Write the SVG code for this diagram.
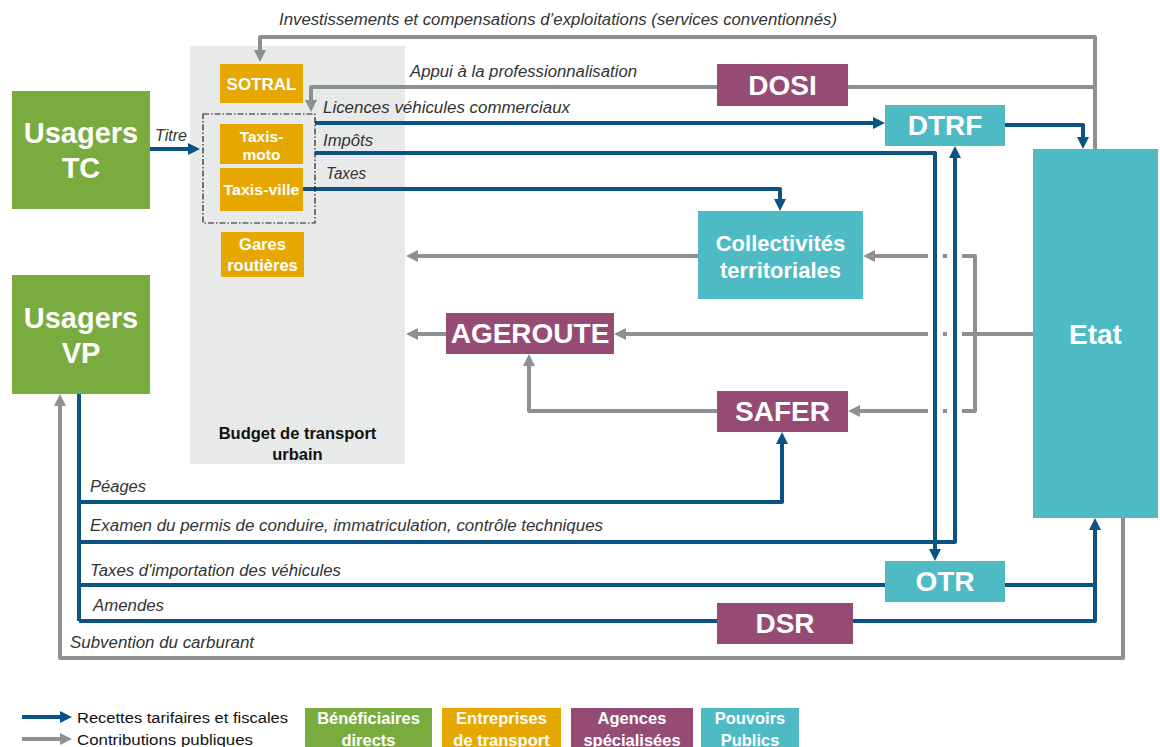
<svg xmlns="http://www.w3.org/2000/svg" width="1160" height="747" viewBox="0 0 1160 747">
<defs>
<marker id="ab" viewBox="0 0 10 10" refX="5" refY="5" markerWidth="12" markerHeight="12" markerUnits="userSpaceOnUse" orient="auto"><path d="M0,0 L10,5 L0,10 z" fill="#0b5384"/></marker>
<marker id="ag" viewBox="0 0 10 10" refX="5" refY="5" markerWidth="12" markerHeight="12" markerUnits="userSpaceOnUse" orient="auto"><path d="M0,0 L10,5 L0,10 z" fill="#8b9193"/></marker>
</defs>
<style>
.blue{fill:none;stroke:#0b5384;stroke-width:4;stroke-linejoin:round}
.gray{fill:none;stroke:#8b9193;stroke-width:4;stroke-linejoin:round}
.ab{marker-end:url(#ab)}
.ag{marker-end:url(#ag)}
.green{fill:#7aab3f}
.orange{fill:#e6a700}
.purple{fill:#954b73}
.teal{fill:#4dbac4}
.lbl{font-family:"Liberation Sans",Arial,sans-serif;font-weight:bold;fill:#fff;text-anchor:middle}
.it{font-family:"Liberation Sans",Arial,sans-serif;font-style:italic;font-size:16px;fill:#333}
.leg{font-family:"Liberation Sans",Arial,sans-serif;font-size:15.5px;fill:#111}
</style>
<rect width="1160" height="747" fill="#fff"/>

<g id="budget">
<rect x="190" y="46" width="215" height="418" fill="#e8e9e9"/>
<text class="lbl" x="297.5" y="439" style="fill:#111;font-size:16.5px">Budget de transport</text>
<text class="lbl" x="297.5" y="460" style="fill:#111;font-size:16.5px">urbain</text>
</g>

<g id="connectors">
<path class="gray ag" d="M1095,149 V37 H260 V56"/>
<path class="gray" d="M1095,87 H848"/>
<path class="gray ag" d="M717,87 H311 V106"/>
<path class="gray" d="M1033,334 H962"/>
<path class="gray" d="M943,334 H947 M943,256 H947 M943,411 H947"/>
<path class="gray ag" d="M928,334 H620"/>
<path class="gray" d="M962,256 H975 V411 H962"/>
<path class="gray ag" d="M928,256 H869"/>
<path class="gray ag" d="M928,411 H854"/>
<path class="gray ag" d="M698,256 H412"/>
<path class="gray ag" d="M446,334 H412"/>
<path class="gray ag" d="M717,411 H529 V360"/>
<path class="gray ag" d="M1123,518 V658 H60 V400"/>
<path class="blue ab" d="M150,149 H194"/>
<path class="blue ab" d="M315,123 H879"/>
<path class="blue ab" d="M315,153 H935 V555"/>
<path class="blue ab" d="M303,189 H780 V205"/>
<path class="blue ab" d="M1005,125 H1083 V143"/>
<path class="blue" d="M79,394 V621"/>
<path class="blue ab" d="M79,502 H782 V438"/>
<path class="blue ab" d="M79,542 H955 V152"/>
<path class="blue" d="M79,585 H885"/>
<path class="blue" d="M79,621 H717"/>
<path class="blue" d="M1005,585 H1095"/>
<path class="blue ab" d="M853,621 H1095 V524"/>
</g>

<g id="labels">
<text class="it" x="279" y="25" textLength="558" lengthAdjust="spacingAndGlyphs">Investissements et compensations d’exploitations (services conventionnés)</text>
<text class="it" x="410" y="77" textLength="227" lengthAdjust="spacingAndGlyphs">Appui à la professionnalisation</text>
<text class="it" x="323" y="113" textLength="247" lengthAdjust="spacingAndGlyphs">Licences véhicules commerciaux</text>
<text class="it" x="323" y="146" textLength="50" lengthAdjust="spacingAndGlyphs">Impôts</text>
<text class="it" x="326" y="179" textLength="40" lengthAdjust="spacingAndGlyphs">Taxes</text>
<text class="it" x="155" y="141" textLength="32" lengthAdjust="spacingAndGlyphs">Titre</text>
<text class="it" x="90" y="492" textLength="56" lengthAdjust="spacingAndGlyphs">Péages</text>
<text class="it" x="90" y="531" textLength="513" lengthAdjust="spacingAndGlyphs">Examen du permis de conduire, immatriculation, contrôle techniques</text>
<text class="it" x="90" y="576" textLength="251" lengthAdjust="spacingAndGlyphs">Taxes d'importation des véhicules</text>
<text class="it" x="93" y="611" textLength="71" lengthAdjust="spacingAndGlyphs">Amendes</text>
<text class="it" x="70" y="648" textLength="184" lengthAdjust="spacingAndGlyphs">Subvention du carburant</text>
</g>

<g id="usagers-tc">
<rect class="green" x="12" y="91" width="138" height="118"/>
<text class="lbl" x="81" y="143" font-size="29">Usagers</text>
<text class="lbl" x="81" y="178" font-size="29">TC</text>
</g>
<g id="usagers-vp">
<rect class="green" x="12" y="275" width="138" height="119"/>
<text class="lbl" x="81" y="328" font-size="29">Usagers</text>
<text class="lbl" x="81" y="363" font-size="29">VP</text>
</g>

<g id="sotral">
<rect class="orange" x="220" y="64" width="83" height="39"/>
<text class="lbl" x="261.5" y="90" font-size="17">SOTRAL</text>
</g>
<g id="taxis-group">
<rect x="203" y="114" width="112" height="109" fill="none" stroke="#222" stroke-width="1.2" stroke-dasharray="6 2 1.5 2"/>
</g>
<g id="taxis-moto">
<rect class="orange" x="220" y="124" width="83" height="40"/>
<text class="lbl" x="261.5" y="142" font-size="15.5">Taxis-</text>
<text class="lbl" x="261.5" y="160" font-size="15.5">moto</text>
</g>
<g id="taxis-ville">
<rect class="orange" x="220" y="168" width="83" height="43"/>
<text class="lbl" x="261.5" y="195" font-size="15.5" textLength="76" lengthAdjust="spacingAndGlyphs">Taxis-ville</text>
</g>
<g id="gares">
<rect class="orange" x="221" y="232" width="83" height="45"/>
<text class="lbl" x="262.5" y="250" font-size="16.5">Gares</text>
<text class="lbl" x="262.5" y="271" font-size="16.5">routières</text>
</g>

<g id="dosi">
<rect class="purple" x="717" y="64" width="131" height="42"/>
<text class="lbl" x="782.5" y="95" font-size="28">DOSI</text>
</g>
<g id="dtrf">
<rect class="teal" x="885" y="105" width="120" height="41"/>
<text class="lbl" x="945" y="135" font-size="28">DTRF</text>
</g>
<g id="etat">
<rect class="teal" x="1033" y="149" width="125" height="369"/>
<text class="lbl" x="1095.5" y="344" font-size="28">Etat</text>
</g>
<g id="collectivites">
<rect class="teal" x="698" y="211" width="165" height="88"/>
<text class="lbl" x="780.5" y="251" font-size="22">Collectivités</text>
<text class="lbl" x="780.5" y="278" font-size="22">territoriales</text>
</g>
<g id="ageroute">
<rect class="purple" x="446" y="313" width="168" height="41"/>
<text class="lbl" x="530" y="343" font-size="28">AGEROUTE</text>
</g>
<g id="safer">
<rect class="purple" x="717" y="391" width="131" height="41"/>
<text class="lbl" x="782.5" y="421" font-size="28">SAFER</text>
</g>
<g id="otr">
<rect class="teal" x="885" y="561" width="120" height="41"/>
<text class="lbl" x="945" y="591" font-size="28">OTR</text>
</g>
<g id="dsr">
<rect class="purple" x="717" y="603" width="136" height="41"/>
<text class="lbl" x="785" y="633" font-size="28">DSR</text>
</g>

<g id="legend">
<path class="blue ab" d="M22,717 H66"/>
<path class="gray ag" d="M22,739 H66"/>
<text class="leg" x="77" y="723" textLength="211" lengthAdjust="spacingAndGlyphs">Recettes tarifaires et fiscales</text>
<text class="leg" x="77" y="745" textLength="176" lengthAdjust="spacingAndGlyphs">Contributions publiques</text>
<rect class="green" x="305" y="708" width="127" height="40"/>
<text class="lbl" x="368.5" y="724" font-size="16.5">Bénéficiaires</text>
<text class="lbl" x="368.5" y="746" font-size="16.5">directs</text>
<rect class="orange" x="442" y="708" width="119" height="40"/>
<text class="lbl" x="501.5" y="724" font-size="16.5">Entreprises</text>
<text class="lbl" x="501.5" y="746" font-size="16.5">de transport</text>
<rect class="purple" x="571" y="708" width="122" height="40"/>
<text class="lbl" x="632" y="724" font-size="16.5">Agences</text>
<text class="lbl" x="632" y="746" font-size="16.5">spécialisées</text>
<rect class="teal" x="701" y="708" width="98" height="40"/>
<text class="lbl" x="750" y="724" font-size="16.5">Pouvoirs</text>
<text class="lbl" x="750" y="746" font-size="16.5">Publics</text>
</g>
</svg>
